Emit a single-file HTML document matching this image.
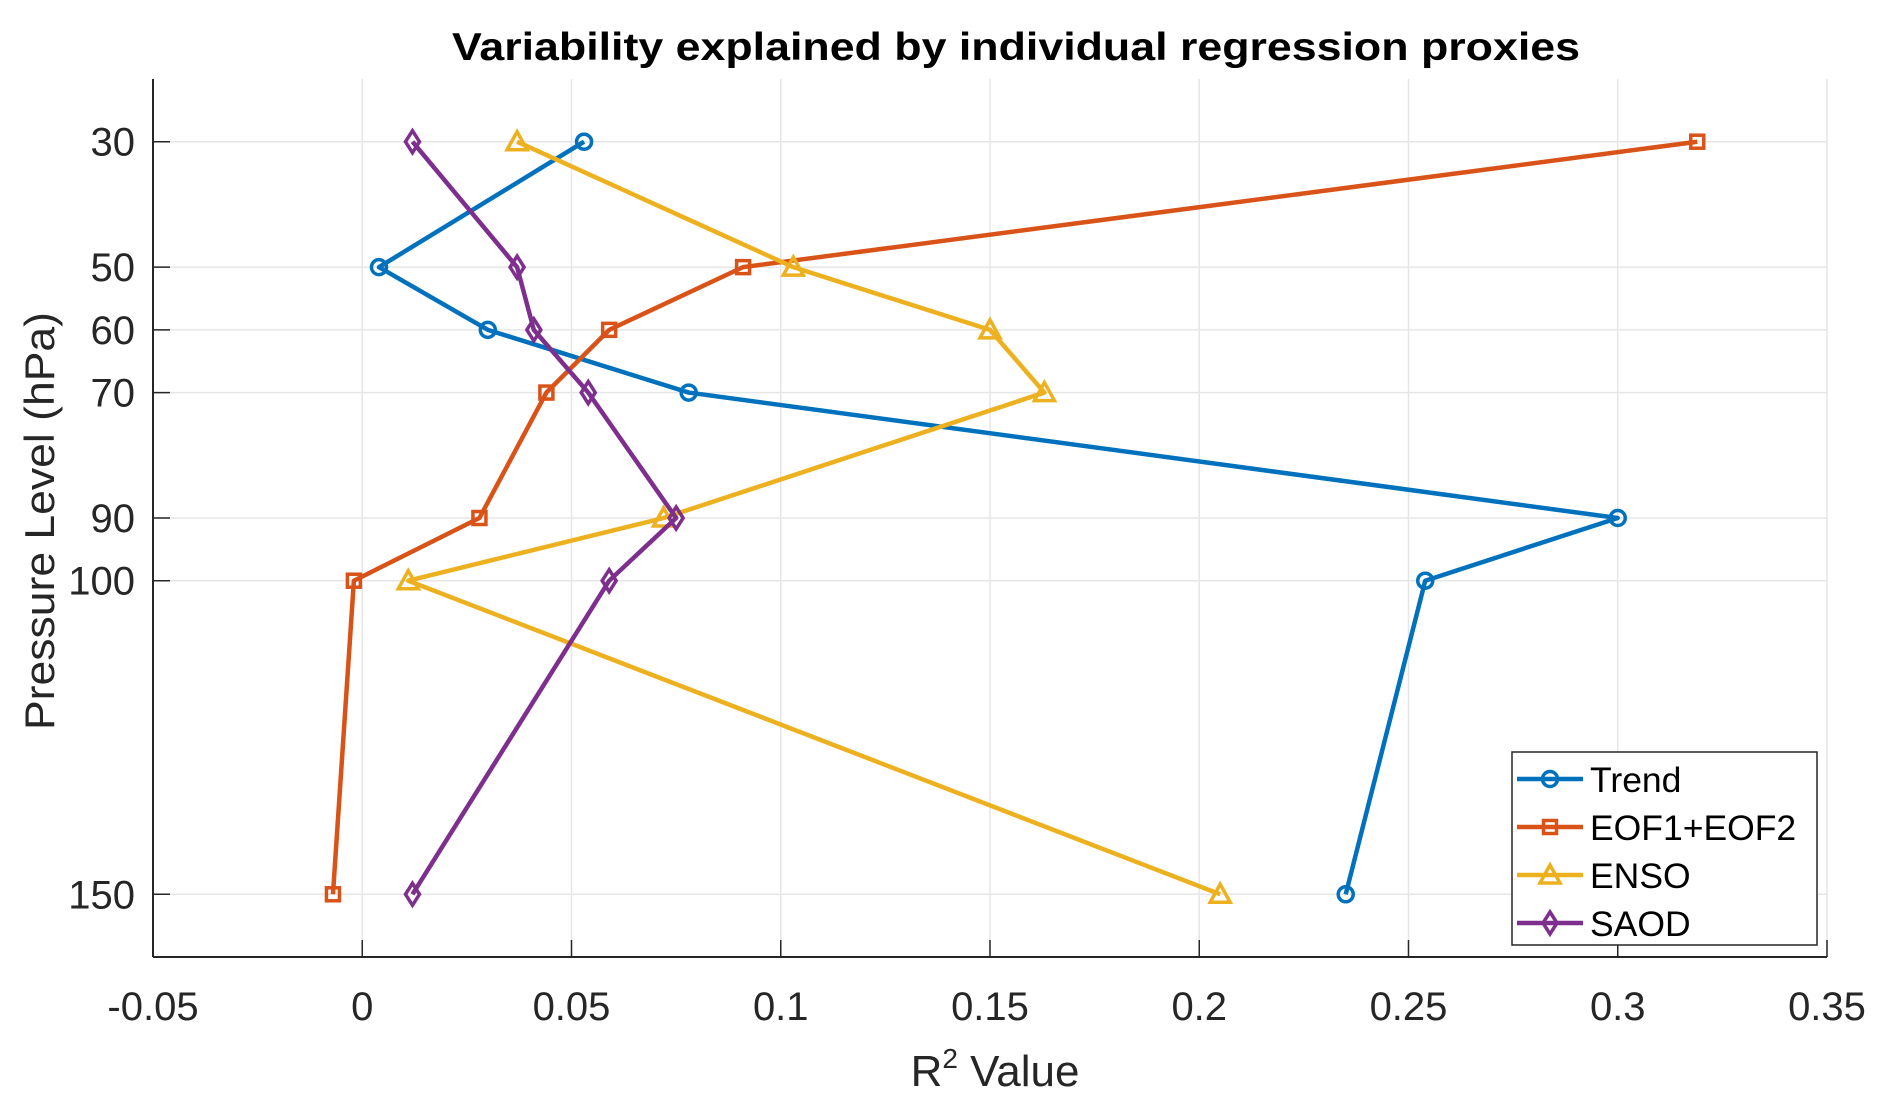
<!DOCTYPE html>
<html><head><meta charset="utf-8"><style>body{margin:0;background:#fff}svg{display:block;font-family:"Liberation Sans",Arial,sans-serif}</style></head>
<body>
<svg id="chart" width="1892" height="1106" viewBox="0 0 1892 1106">
<rect width="1892" height="1106" fill="#fff"/>
<text x="1016" y="60" text-anchor="middle" font-size="39" font-weight="bold" textLength="1128" lengthAdjust="spacingAndGlyphs">Variability explained by individual regression proxies</text>
<g id="grid"></g><g id="axes"></g><g id="series"></g>
<text x="995" y="1086" text-anchor="middle" font-size="44" fill="#262626">R<tspan dy="-18" font-size="28">2</tspan><tspan dy="18"> Value</tspan></text>
<text transform="translate(54,521) rotate(-90)" text-anchor="middle" font-size="42" fill="#262626" textLength="418" lengthAdjust="spacingAndGlyphs">Pressure Level (hPa)</text>
<g id="legend"></g>
</svg>
<script>
const levels=[30,50,60,70,90,100,150];
const trend=[0.053,0.004,0.030,0.078,0.300,0.254,0.235];
const eof=[0.319,0.091,0.059,0.044,0.028,-0.002,-0.007];
const enso=[0.037,0.103,0.150,0.163,0.072,0.011,0.205];
const saod=[0.012,0.037,0.041,0.054,0.075,0.059,0.012];
const xTicks=[-0.05,0,0.05,0.1,0.15,0.2,0.25,0.3,0.35];
const xTickLabels=["-0.05","0","0.05","0.1","0.15","0.2","0.25","0.3","0.35"];
const yTicks=[30,50,60,70,90,100,150];
const seriesNames=["Trend","EOF1+EOF2","ENSO","SAOD"];

const NS="http://www.w3.org/2000/svg";
const L=153,R=1827,T=79,B=957;
const xMin=-0.05,xMax=0.35,yMin=20,yMax=160;
function sx(v){return L+(v-xMin)/(xMax-xMin)*(R-L);}
function sy(v){return T+(v-yMin)/(yMax-yMin)*(B-T);}
function mk(tag,attrs,parent){const e=document.createElementNS(NS,tag);for(const k in attrs)e.setAttribute(k,attrs[k]);parent.appendChild(e);return e;}
const grid=document.getElementById('grid'),axes=document.getElementById('axes'),ser=document.getElementById('series'),leg=document.getElementById('legend');
xTicks.forEach((t,i)=>{
  const x=sx(t);
  const g=mk('line',{x1:x,x2:x,y1:T,y2:B,stroke:'#e6e6e6','stroke-width':1.5},grid);
  
  
  const tk=mk('line',{x1:x,x2:x,y1:B,y2:B-17,stroke:'#262626','stroke-width':1.5},axes);
  
  
  const tx=mk('text',{x:x,y:1020,'text-anchor':'middle','font-size':40,fill:'#262626'},axes);
  tx.textContent=xTickLabels[i];
  
  
});
yTicks.forEach(t=>{
  const y=sy(t);
  const g=mk('line',{x1:L,x2:R,y1:y,y2:y,stroke:'#e6e6e6','stroke-width':1.5},grid);
  
  
  const tk=mk('line',{x1:L,x2:L+17,y1:y,y2:y,stroke:'#262626','stroke-width':1.5},axes);
  
  
  const tx=mk('text',{x:L-18,y:y+14,'text-anchor':'end','font-size':40,fill:'#262626'},axes);
  tx.textContent=t;
  
  
});
const ax1=mk('line',{x1:L,x2:L,y1:T,y2:B,stroke:'#262626','stroke-width':2},axes);


const ax2=mk('line',{x1:L,x2:R,y1:B,y2:B,stroke:'#262626','stroke-width':2},axes);



const colors=["#0072BD","#D95319","#EDB120","#7E2F8E"];
const markers=["circle","square","triangle","diamond"];
function marker(type,x,y,c,p){
  let e;
  if(type==="circle")e=mk('circle',{cx:x,cy:y,r:7.5,fill:'none',stroke:c,'stroke-width':3.5},p);
  else if(type==="square")e=mk('rect',{x:x-6.5,y:y-6.5,width:13,height:13,fill:'none',stroke:c,'stroke-width':3.5},p);
  else if(type==="triangle")e=mk('polygon',{points:`${x},${y-10} ${x+10},${y+8} ${x-10},${y+8}`,fill:'none',stroke:c,'stroke-width':3.5},p);
  else e=mk('polygon',{points:`${x},${y-11} ${x+7},${y} ${x},${y+11} ${x-7},${y}`,fill:'none',stroke:c,'stroke-width':3.5},p);
  return e;
}
[trend,eof,enso,saod].forEach((vals,si)=>{
  const g=mk('g',{},ser);
  
  
  const pts=vals.map((v,i)=>sx(v)+','+sy(levels[i])).join(' ');
  const pl=mk('polyline',{points:pts,fill:'none',stroke:colors[si],'stroke-width':4.5,'stroke-linejoin':'round'},g);
  
  
  vals.forEach((v,i)=>{
    const m=marker(markers[si],sx(v),sy(levels[i]),colors[si],g);
    
    
  });
});
const box=mk('rect',{x:1512,y:752,width:305,height:193,fill:'#fff',stroke:'#262626','stroke-width':1.5},leg);


seriesNames.forEach((n,i)=>{
  const y=779+i*48;
  const g=mk('g',{},leg);
  
  
  mk('line',{x1:1517,x2:1583,y1:y,y2:y,stroke:colors[i],'stroke-width':4.5},g);
  marker(markers[i],1550,y,colors[i],g);
  const t=mk('text',{x:1590,y:y+13,'font-size':35.5,fill:'#000'},g);
  t.textContent=n;
});
</script>
</body></html>
